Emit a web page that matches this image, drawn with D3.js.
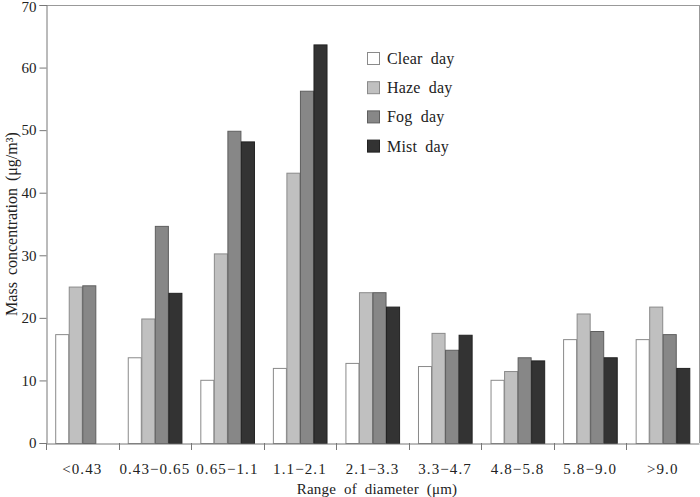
<!DOCTYPE html>
<html><head><meta charset="utf-8">
<script src="https://cdn.jsdelivr.net/npm/d3@7"></script>
<style>body{margin:0;background:#fff}svg{display:block}text{font-family:"Liberation Serif","Times New Roman",serif;fill:#222}</style>
</head><body><svg id="c" width="700" height="497"></svg>
<script>
const categories = ["<0.43","0.43\u22120.65","0.65\u22121.1","1.1\u22122.1","2.1\u22123.3","3.3\u22124.7","4.8\u22125.8","5.8\u22129.0",">9.0"];
const seriesNames = ["Clear day","Haze day","Fog day","Mist day"];
const clearDay = [17.4,13.7,10.1,12.0,12.8,12.3,10.1,16.6,16.6];
const hazeDay  = [25.0,19.9,30.3,43.2,24.1,17.6,11.5,20.7,21.8];
const fogDay   = [25.2,34.7,49.9,56.3,24.1,14.9,13.7,17.9,17.4];
const mistDay  = [null,24.0,48.2,63.7,21.8,17.3,13.2,13.7,12.0];
const yTicks = [0,10,20,30,40,50,60,70];
const fills = ["#ffffff","#c0c0c0","#878787","#333333"];
const strokes = ["#8a8a8a","#8a8a8a","#5e5e5e","#222222"];
const seriesValues = [clearDay,hazeDay,fogDay,mistDay];

const svg = d3.select("#c");
const L = 46, R = 699, T = 5, B = 443;
const x0 = d3.scaleBand().domain(categories).range([L,R]).padding(0);
const x1 = d3.scaleBand().domain(seriesNames).range([0,x0.bandwidth()]).paddingInner(0).paddingOuter(0.68);
const y = d3.scaleLinear().domain([0,70]).range([B,T]);

// frame top/right
svg.append("line").attr("x1",L).attr("x2",R).attr("y1",T+0.5).attr("y2",T+0.5).attr("stroke","#999");
svg.append("line").attr("x1",R+0.5).attr("x2",R+0.5).attr("y1",T).attr("y2",B).attr("stroke","#999");

// bars
const g = svg.append("g");
categories.forEach((c,i)=>{
  seriesNames.forEach((s,j)=>{
    const v = seriesValues[j][i];
    if(v==null) return;
    g.append("rect")
      .attr("x",x0(c)+x1(s)+0.5).attr("y",y(v)+0.5)
      .attr("width",x1.bandwidth()-0.5).attr("height",B-y(v))
      .attr("fill",fills[j]).attr("stroke",strokes[j]).attr("stroke-width",1);
  });
});

// y axis
const ya = svg.append("g").attr("transform",`translate(${L+0.5},0)`)
  .call(d3.axisLeft(y).tickValues(yTicks).tickSize(7).tickPadding(3));
ya.select(".domain").attr("stroke","#777");
ya.selectAll(".tick line").attr("stroke","#777");
ya.selectAll(".tick text").attr("font-size",15).attr("font-family","Liberation Serif").attr("fill","#222")
  .attr("dy",d=>d===70?"0.42em":"0.32em");

// x axis
const xa = svg.append("g").attr("transform",`translate(0,${B+0.5})`)
  .call(d3.axisBottom(x0).tickSize(0).tickPadding(20));
xa.select(".domain").attr("stroke","#777");
xa.selectAll(".tick text").attr("font-size",15).attr("font-family","Liberation Serif").attr("fill","#222").attr("letter-spacing","1.1px");
// boundary ticks
const bounds = categories.map(c=>x0(c));
svg.append("g").selectAll("line").data(bounds).join("line")
  .attr("x1",d=>Math.round(d)+0.5).attr("x2",d=>Math.round(d)+0.5)
  .attr("y1",B).attr("y2",B+7).attr("stroke","#777");

// axis titles
svg.append("text").attr("x",377).attr("y",494).attr("text-anchor","middle")
  .attr("font-size",15).attr("word-spacing","4px").attr("letter-spacing","0.2px").text("Range of diameter (\u03bcm)");
svg.append("text").attr("transform","translate(17,224) rotate(-90)").attr("text-anchor","middle")
  .attr("font-size",16).attr("word-spacing","3px").text("Mass concentration (\u03bcg/m\u00b3)");

// legend
const lg = svg.append("g");
seriesNames.forEach((s,j)=>{
  const cy = 59 + j*29.2;
  lg.append("rect").attr("x",367.5).attr("y",cy-6.5).attr("width",12).attr("height",12)
    .attr("fill",fills[j]).attr("stroke",strokes[j]);
  lg.append("text").attr("x",387).attr("y",cy+5).attr("font-size",16)
    .attr("letter-spacing","0.2px").attr("word-spacing","4px").text(s);
});
</script></body></html>
